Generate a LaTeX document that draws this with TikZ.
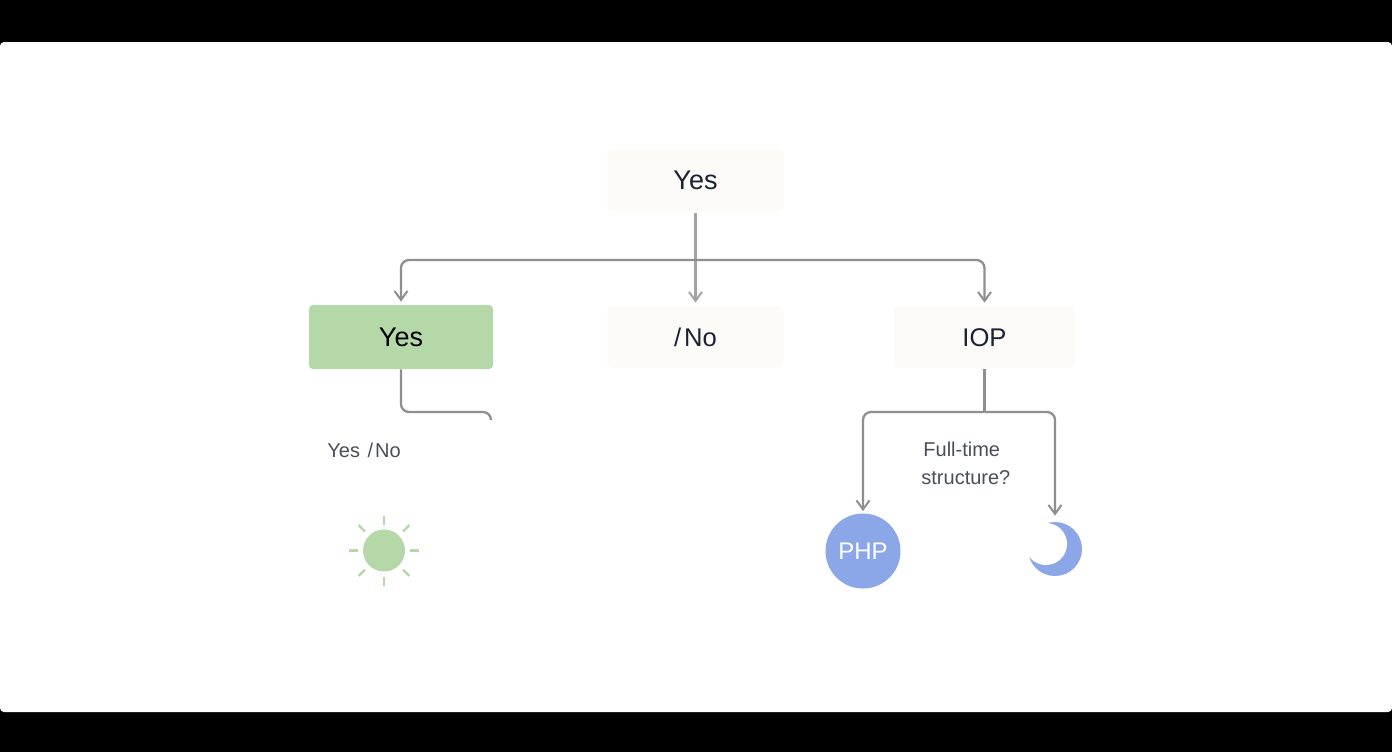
\documentclass[tikz,border=0pt]{standalone}
\usepackage{fontspec}
\setmainfont{Liberation Sans}
\usetikzlibrary{arrows.meta}
\definecolor{pale}{HTML}{FDFBF8}
\definecolor{leaf}{HTML}{B5D8A8}
\definecolor{wiredark}{HTML}{8F8F8F}
\definecolor{wirelight}{HTML}{A3A3A3}
\definecolor{inkdark}{HTML}{1A2233}
\definecolor{inkgrey}{HTML}{4A4F57}
\definecolor{periwinkle}{HTML}{8BA7E8}
\tikzset{
  box/.style={rectangle,rounded corners=2pt,inner sep=0pt,minimum height=31pt,
    text height=9.2pt,text depth=0pt,font=\fontsize{12.8pt}{15pt}\selectfont,text=inkdark},
  yesfont/.style={font=\fontsize{13.5pt}{15pt}\selectfont},
  palebox/.style={box,fill=pale,minimum width=88pt},
  greenbox/.style={box,fill=leaf,minimum width=92pt,minimum height=32pt,text=black},
  wire/.style={draw=wiredark,line width=1.15pt,rounded corners=4pt},
  arrowwire/.style={draw=wirelight,line width=1.15pt,rounded corners=4pt,
    -{Straight Barb[length=4.5pt,width=6.5pt,line width=1pt]}},
  small/.style={inner sep=0pt,font=\fontsize{10pt}{14pt}\selectfont,text=inkgrey},
  sunray/.style={draw=leaf,line width=1.2pt},
}
\begin{document}
\begin{tikzpicture}[x=0.5pt,y=-0.5pt]
\path[use as bounding box,fill=black] (0,0) rectangle (1392,752);
\fill[white,rounded corners=2pt] (0,42) rectangle (1392,712);

% boxes
\node[palebox,yesfont] (top) at (695.5,180) {Yes};
\node[greenbox,yesfont] (yes) at (401,337) {Yes};
\node[palebox] (no) at (695.5,337) {/\kern1.5pt No};
\node[palebox,minimum width=90.5pt] (iop) at (984.5,337) {IOP};

% junction and free-end coordinates
\coordinate (busT) at (695.5,260);
\coordinate (yesEnd) at (491,420);
\coordinate (yesTurn) at (401,412);
\coordinate (iopBus) at (984.5,412);

% end shapes
\node[circle,fill=periwinkle,minimum size=37.5pt,inner sep=0pt,text=white,
  font=\fontsize{12pt}{14pt}\selectfont] (php) at (863,551) {PHP};
\node[circle,fill=periwinkle,minimum size=27pt,inner sep=0pt] (moon) at (1055,549) {};
\node[circle,fill=white,minimum size=21pt,inner sep=0pt] (moonCut) at (1046,544) {};
\node[circle,fill=leaf,minimum size=21pt,inner sep=0pt] (sun) at (384,550.5) {};
\foreach \a in {0,90,180,270}
  \draw[sunray,shift={(sun.center)}] (\a:26) -- (\a:35);
\foreach \a in {45,135,225,315}
  \draw[sunray,shift={(sun.center)}] (\a:27) -- (\a:36);

% connectors
\draw[arrowwire,shorten <=1pt,shorten >=1.5pt] (top.south) -- (no.north);
\draw[arrowwire,draw=wiredark,shorten >=1.5pt] (busT) -| (yes.north);
\draw[arrowwire,draw=wiredark,shorten >=1.5pt] (busT) -| (iop.north);
\draw[wire] (yes.south) -- (yesTurn) -- (491,412) -- (yesEnd);
\draw[wire] ([yshift=-0.5pt]iop.south) -- (iopBus);
\draw[arrowwire,draw=wiredark] (iopBus) -| ([yshift=1pt]php.north);
\draw[arrowwire,draw=wiredark] (iopBus) -| ([yshift=3pt]moon.north);

% labels
\node[small,anchor=west] (yesno) at (327,450) {Yes\kern1pt\ /\kern1pt No};
\node[small,anchor=north west,align=left] (full) at (921,442) {\hspace*{1pt}Full-time\\structure?};
\end{tikzpicture}
\end{document}
